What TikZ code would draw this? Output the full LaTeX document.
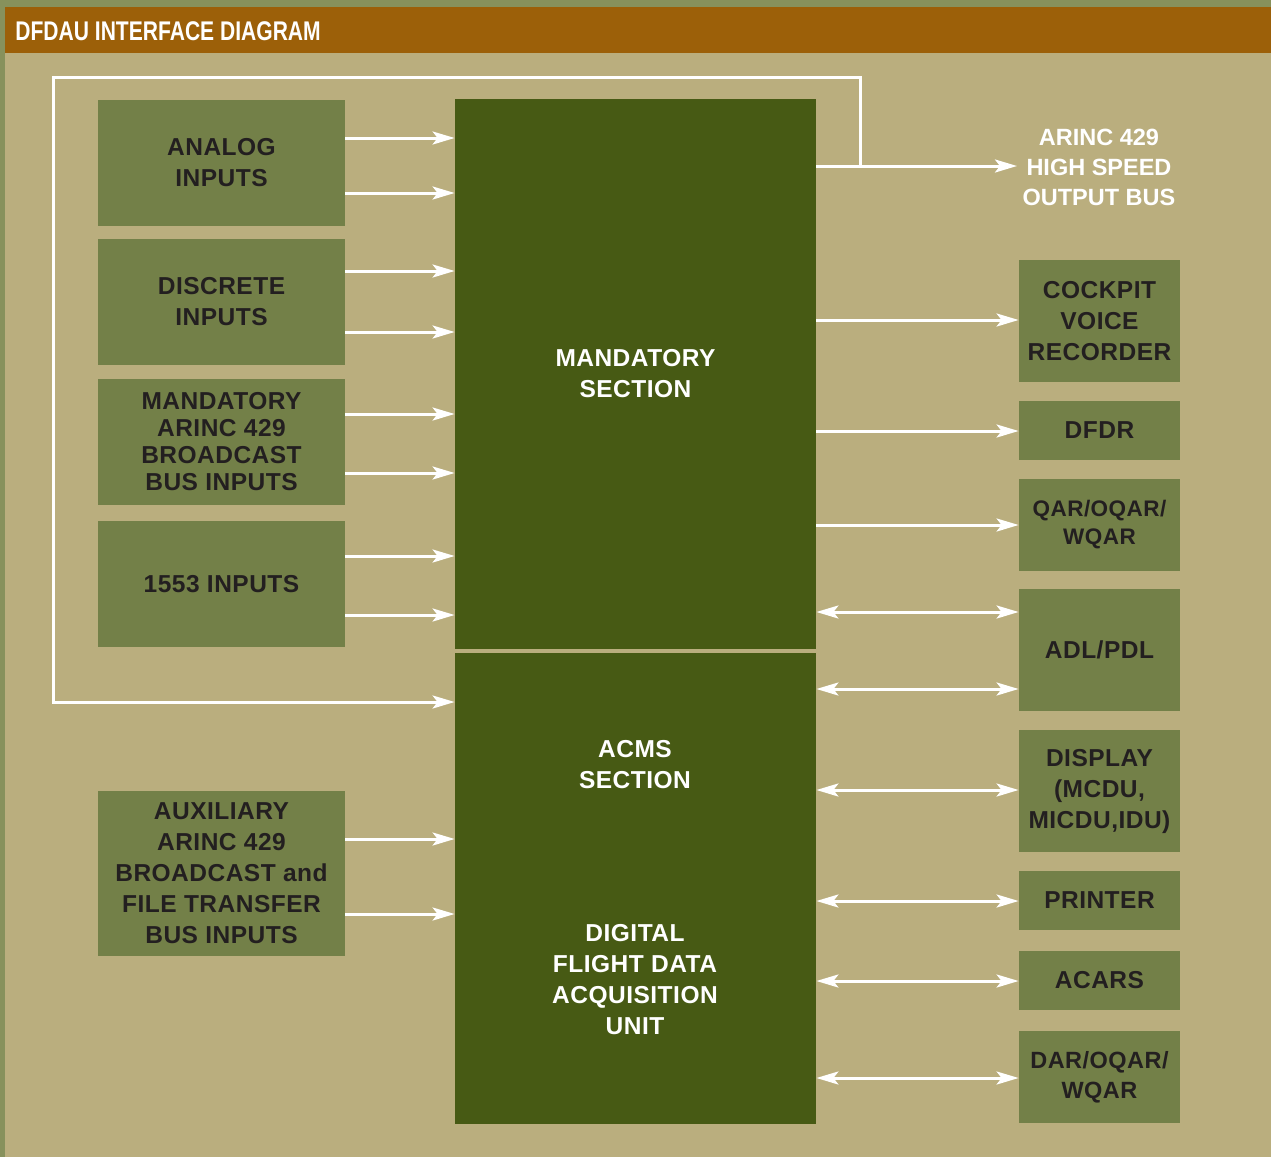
\documentclass[tikz,border=0pt]{standalone}
\usepackage{fontspec}
\setmainfont{Liberation Sans}[LetterSpace=2]
\newfontfamily\titlefont[FakeStretch=0.78]{Liberation Sans}
\newfontfamily\tightfont{Liberation Sans}
\usepackage{tikz}
\usetikzlibrary{arrows.meta}
\usetikzlibrary{positioning}
\usepackage{xcolor}
\definecolor{frame}{RGB}{135,145,92}
\definecolor{sand}{RGB}{186,174,126}
\definecolor{rust}{RGB}{156,96,9}
\definecolor{moss}{RGB}{115,128,72}
\definecolor{forest}{RGB}{71,90,20}
\definecolor{ink}{RGB}{35,31,32}
\newcommand{\blockfont}{\bfseries\fontsize{12.25}{15.5}\selectfont}

\tikzset{
  inbox/.style={fill=moss, text=ink, font=\blockfont, align=center, minimum width=123.5pt, inner sep=0pt},
  outbox/.style={fill=moss, text=ink, font=\blockfont, align=center, minimum width=80.5pt, inner sep=0pt},
  unit/.style={fill=forest, text=white, font=\blockfont, align=center, minimum width=180.5pt, inner sep=0pt},
  whitetext/.style={text=white, font=\blockfont, align=center, inner sep=0pt},
  wire/.style={white, line width=1.5pt},
  feed/.style={-{Stealth[length=11pt,width=6.5pt,inset=2.5pt]}},
  twoway/.style={{Stealth[length=11pt,width=6.5pt,inset=2.5pt]}-{Stealth[length=11pt,width=6.5pt,inset=2.5pt]}}
}

\begin{document}
\begin{tikzpicture}[x=0.5pt,y=-0.5pt]
\useasboundingbox (0,0) rectangle (1271,1157);
\fill[frame] (0,0) rectangle (1271,1157);
\fill[sand] (5,53) rectangle (1271,1157);
\fill[rust] (5,7) rectangle (1271,53);
\node[anchor=west, text=white, inner sep=0pt, font=\titlefont\bfseries\fontsize{13.5}{16}\selectfont] (title) at (15,31) {DFDAU INTERFACE DIAGRAM};

% DFDAU
\node[unit, minimum height=275pt] (mand) at (635.5,374) {MANDATORY\\SECTION};
\node[unit, minimum height=235.5pt] (acms) at (635.5,888.5) {};
\node[whitetext] (acmstext) at (635,765) {ACMS\\SECTION};
\node[whitetext] (dfdau) at (635,980) {DIGITAL\\FLIGHT DATA\\ACQUISITION\\UNIT};

% inputs
\node[inbox, minimum height=63pt] (analog) at (221.5,163) {ANALOG\\INPUTS};
\node[inbox, minimum height=63pt] (discrete) at (221.5,302) {DISCRETE\\INPUTS};
\node[inbox, minimum height=63pt, font=\bfseries\fontsize{12.25}{13.5}\selectfont] (mandin) at (221.5,442) {MANDATORY\\ARINC 429\\BROADCAST\\BUS INPUTS};
\node[inbox, minimum height=63pt] (milstd) at (221.5,584) {1553 INPUTS};
\node[inbox, minimum height=82.5pt] (auxin) at (221.5,873.5) {AUXILIARY\\ARINC 429\\BROADCAST and\\FILE TRANSFER\\BUS INPUTS};

% outputs
\node[whitetext, font=\tightfont\bfseries\fontsize{11.75}{15}\selectfont] (hsbus) at (1099,167) {ARINC 429\\HIGH SPEED\\OUTPUT BUS};
\node[outbox, minimum height=61pt] (cvr) at (1099.5,321) {COCKPIT\\VOICE\\RECORDER};
\node[outbox, minimum height=29.5pt] (dfdr) at (1099.5,430.5) {DFDR};
\node[outbox, minimum height=46pt, font=\bfseries\fontsize{11.25}{14}\selectfont] (qar) at (1099.5,525) {QAR/OQAR/\\WQAR};
\node[outbox, minimum height=61pt] (adl) at (1099.5,650) {ADL/PDL};
\node[outbox, minimum height=61pt] (disp) at (1099.5,791) {DISPLAY\\(MCDU,\\MICDU,IDU)};
\node[outbox, minimum height=29.5pt] (printer) at (1099.5,900.5) {PRINTER};
\node[outbox, minimum height=29.5pt] (acars) at (1099.5,980.5) {ACARS};
\node[outbox, minimum height=46pt, font=\bfseries\fontsize{11.75}{15}\selectfont] (dar) at (1099.5,1077) {DAR/OQAR/\\WQAR};

% input arrows
\foreach \y/\src in {138/analog,193/analog,271/discrete,332/discrete,414/mandin,473/mandin,556/milstd,615/milstd}
  \draw[wire,feed] (\src.east |- 0,\y) -- (mand.west |- 0,\y);
\foreach \y in {839,914}
  \draw[wire,feed] (auxin.east |- 0,\y) -- (acms.west |- 0,\y);

% output arrows
\coordinate (busend) at (1017,166);
\coordinate (tap) at (860,166);
\draw[wire,feed] (mand.east |- busend) -- (busend);
\draw[wire,feed] (tap) -- (tap |- 0,77) -| (53,702) -- (acms.west |- 0,702);
\foreach \y/\dest in {320/cvr,431/dfdr,525/qar}
  \draw[wire,feed] (mand.east |- 0,\y) -- (\dest.west |- 0,\y);
\foreach \y/\src/\dest in {612/mand/adl,689/acms/adl,790/acms/disp,901/acms/printer,981/acms/acars,1078/acms/dar}
  \draw[wire,twoway] (\src.east |- 0,\y) -- (\dest.west |- 0,\y);
\end{tikzpicture}
\end{document}
